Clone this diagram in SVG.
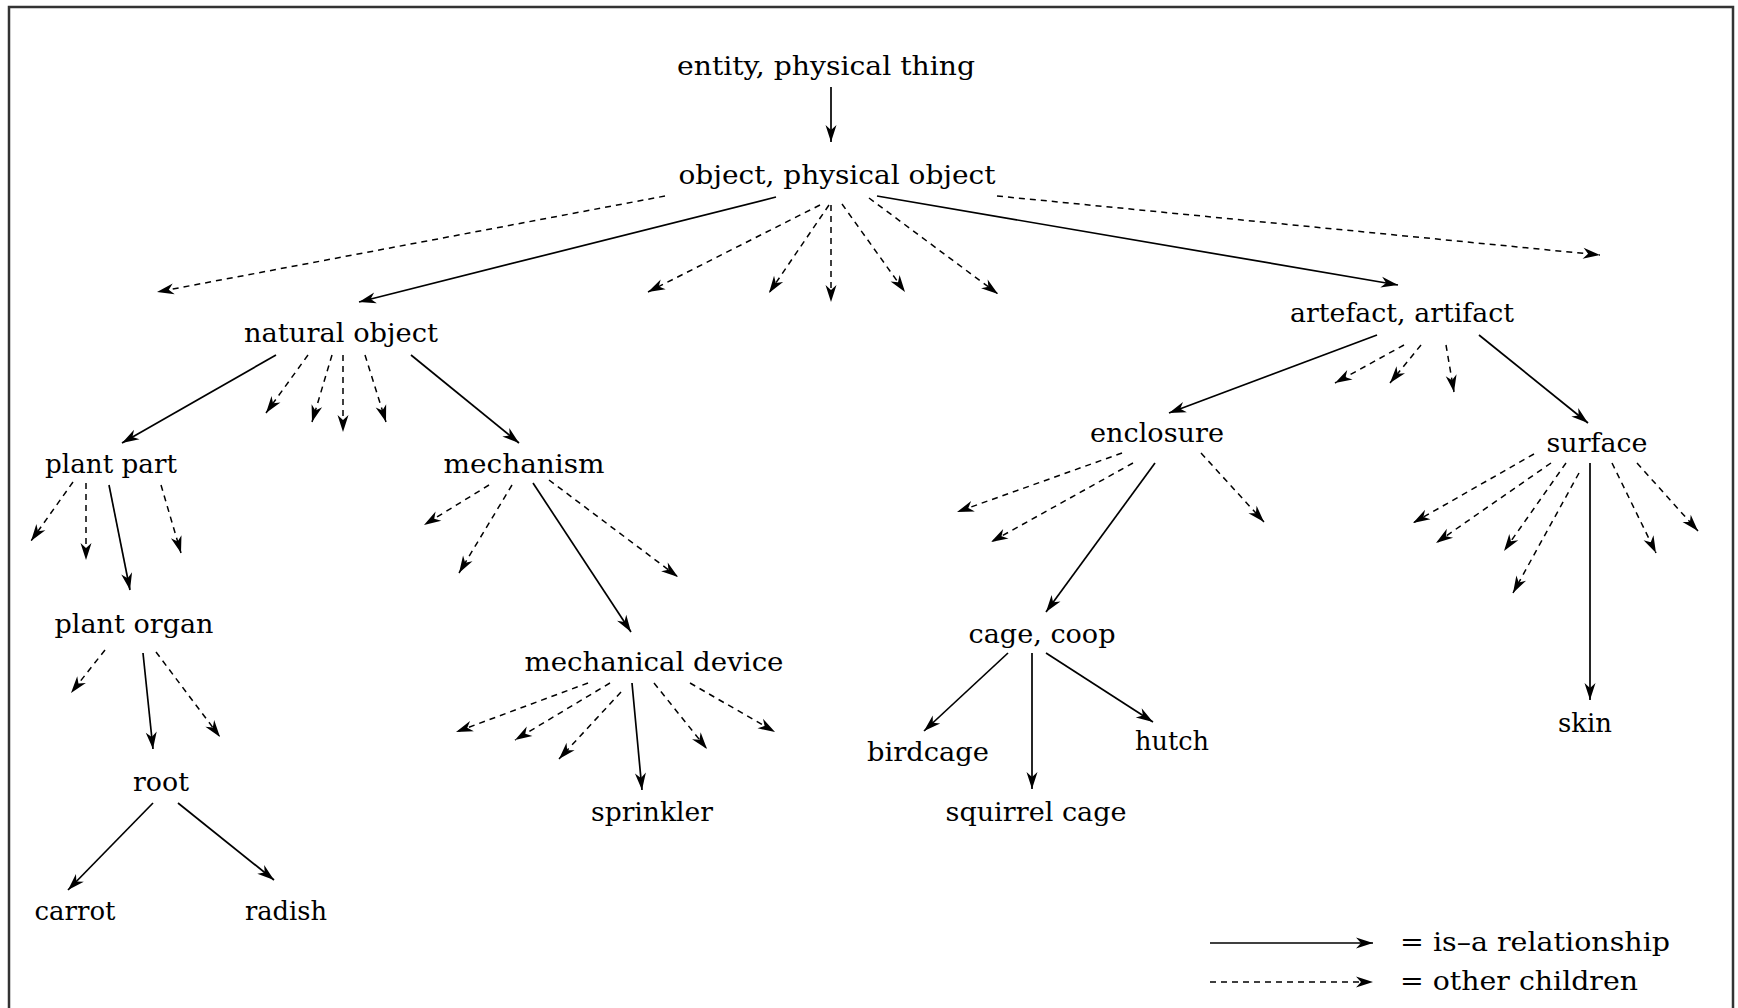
<svg xmlns="http://www.w3.org/2000/svg" width="1738" height="1008" viewBox="0 0 1738 1008">
  <style>
    .lbl { font-family: "DejaVu Serif", "Liberation Serif", serif; font-size: 26px; fill: #000; text-anchor: middle; }
    .leg { font-family: "DejaVu Serif", "Liberation Serif", serif; font-size: 26px; fill: #000; text-anchor: start; }
    .isa { fill: none; stroke: #000; stroke-width: 1.7; marker-end: url(#head); }
    .oth { fill: none; stroke: #000; stroke-width: 1.5; stroke-dasharray: 6 5; marker-end: url(#head); }
  </style>
  <defs>
    <marker id="head" markerUnits="userSpaceOnUse" viewBox="-18 -7 19 14" refX="0" refY="0" markerWidth="19" markerHeight="14" orient="auto">
      <path d="M0,0 L-17,-5.5 L-12,0 L-17,5.5 Z" fill="#000"/>
    </marker>
  </defs>

  <rect width="1738" height="1008" fill="#fff"/>
  <!-- frame (open at the bottom) -->
  <rect x="9" y="7" width="1724" height="1020" fill="none" stroke="#333" stroke-width="2.5"/>

  <!-- connectors -->
  <g id="connectors">
    <!-- is-a relations -->
    <line class="isa" x1="831" y1="87" x2="831" y2="142"/>
    <line class="isa" x1="776" y1="197" x2="359" y2="302"/>
    <line class="isa" x1="877" y1="196" x2="1398" y2="285"/>
    <line class="isa" x1="276" y1="355" x2="122" y2="443"/>
    <line class="isa" x1="411" y1="355" x2="519" y2="443"/>
    <line class="isa" x1="109" y1="485" x2="130" y2="590"/>
    <line class="isa" x1="533" y1="483" x2="631" y2="632"/>
    <line class="isa" x1="143" y1="653" x2="153" y2="749"/>
    <line class="isa" x1="153" y1="803" x2="68" y2="890"/>
    <line class="isa" x1="178" y1="803" x2="274" y2="880"/>
    <line class="isa" x1="632" y1="683" x2="642" y2="790"/>
    <line class="isa" x1="1377" y1="335" x2="1169" y2="413"/>
    <line class="isa" x1="1479" y1="335" x2="1588" y2="423"/>
    <line class="isa" x1="1155" y1="463" x2="1046" y2="612"/>
    <line class="isa" x1="1008" y1="653" x2="924" y2="731"/>
    <line class="isa" x1="1032" y1="653" x2="1032" y2="789"/>
    <line class="isa" x1="1046" y1="653" x2="1153" y2="722"/>
    <line class="isa" x1="1590" y1="463" x2="1590" y2="700"/>

    <!-- other children: object -->
    <line class="oth" x1="665" y1="196" x2="157" y2="292"/>
    <line class="oth" x1="820" y1="205" x2="648" y2="292"/>
    <line class="oth" x1="829" y1="205" x2="769" y2="293"/>
    <line class="oth" x1="831" y1="205" x2="831" y2="302"/>
    <line class="oth" x1="842" y1="204" x2="905" y2="292"/>
    <line class="oth" x1="869" y1="198" x2="998" y2="294"/>
    <line class="oth" x1="997" y1="196" x2="1600" y2="255"/>
    <!-- other children: natural object -->
    <line class="oth" x1="308" y1="355" x2="266" y2="413"/>
    <line class="oth" x1="332" y1="355" x2="312" y2="422"/>
    <line class="oth" x1="343" y1="355" x2="343" y2="432"/>
    <line class="oth" x1="365" y1="355" x2="386" y2="422"/>
    <!-- other children: plant part -->
    <line class="oth" x1="73" y1="482" x2="31" y2="541"/>
    <line class="oth" x1="86" y1="483" x2="86" y2="560"/>
    <line class="oth" x1="161" y1="485" x2="181" y2="553"/>
    <!-- other children: mechanism -->
    <line class="oth" x1="489" y1="485" x2="424" y2="525"/>
    <line class="oth" x1="512" y1="485" x2="459" y2="573"/>
    <line class="oth" x1="549" y1="480" x2="678" y2="577"/>
    <!-- other children: plant organ -->
    <line class="oth" x1="105" y1="650" x2="71" y2="693"/>
    <line class="oth" x1="156" y1="652" x2="220" y2="737"/>
    <!-- other children: mechanical device -->
    <line class="oth" x1="588" y1="683" x2="456" y2="732"/>
    <line class="oth" x1="610" y1="683" x2="515" y2="740"/>
    <line class="oth" x1="621" y1="692" x2="559" y2="759"/>
    <line class="oth" x1="654" y1="683" x2="707" y2="749"/>
    <line class="oth" x1="690" y1="683" x2="775" y2="732"/>
    <!-- other children: artefact -->
    <line class="oth" x1="1404" y1="345" x2="1335" y2="383"/>
    <line class="oth" x1="1421" y1="345" x2="1390" y2="383"/>
    <line class="oth" x1="1446" y1="345" x2="1454" y2="392"/>
    <!-- other children: enclosure -->
    <line class="oth" x1="1122" y1="453" x2="957" y2="512"/>
    <line class="oth" x1="1133" y1="463" x2="991" y2="542"/>
    <line class="oth" x1="1201" y1="453" x2="1264" y2="522"/>
    <!-- other children: surface -->
    <line class="oth" x1="1534" y1="454" x2="1413" y2="523"/>
    <line class="oth" x1="1551" y1="463" x2="1436" y2="543"/>
    <line class="oth" x1="1566" y1="463" x2="1504" y2="551"/>
    <line class="oth" x1="1579" y1="473" x2="1513" y2="593"/>
    <line class="oth" x1="1612" y1="463" x2="1656" y2="553"/>
    <line class="oth" x1="1637" y1="463" x2="1698" y2="531"/>

    <!-- legend samples -->
    <line class="isa" x1="1210" y1="943" x2="1373" y2="943"/>
    <line class="oth" x1="1210" y1="982" x2="1373" y2="982"/>
  </g>

  <!-- nodes -->
  <g id="n-entity"><text class="lbl" x="826" y="75" textLength="298" lengthAdjust="spacingAndGlyphs">entity, physical thing</text></g>
  <g id="n-object"><text class="lbl" x="837" y="184" textLength="317" lengthAdjust="spacingAndGlyphs">object, physical object</text></g>
  <g id="n-natural-object"><text class="lbl" x="341" y="342" textLength="194" lengthAdjust="spacingAndGlyphs">natural object</text></g>
  <g id="n-artefact"><text class="lbl" x="1402" y="322" textLength="224" lengthAdjust="spacingAndGlyphs">artefact, artifact</text></g>
  <g id="n-plant-part"><text class="lbl" x="111" y="473" textLength="132" lengthAdjust="spacingAndGlyphs">plant part</text></g>
  <g id="n-mechanism"><text class="lbl" x="524" y="473" textLength="161" lengthAdjust="spacingAndGlyphs">mechanism</text></g>
  <g id="n-enclosure"><text class="lbl" x="1157" y="442" textLength="134" lengthAdjust="spacingAndGlyphs">enclosure</text></g>
  <g id="n-surface"><text class="lbl" x="1597" y="452" textLength="101" lengthAdjust="spacingAndGlyphs">surface</text></g>
  <g id="n-plant-organ"><text class="lbl" x="134" y="633" textLength="159" lengthAdjust="spacingAndGlyphs">plant organ</text></g>
  <g id="n-mechanical-device"><text class="lbl" x="654" y="671" textLength="259" lengthAdjust="spacingAndGlyphs">mechanical device</text></g>
  <g id="n-cage"><text class="lbl" x="1042" y="643" textLength="147" lengthAdjust="spacingAndGlyphs">cage, coop</text></g>
  <g id="n-root"><text class="lbl" x="161" y="791" textLength="56" lengthAdjust="spacingAndGlyphs">root</text></g>
  <g id="n-sprinkler"><text class="lbl" x="652" y="821" textLength="122" lengthAdjust="spacingAndGlyphs">sprinkler</text></g>
  <g id="n-birdcage"><text class="lbl" x="928" y="761" textLength="122" lengthAdjust="spacingAndGlyphs">birdcage</text></g>
  <g id="n-hutch"><text class="lbl" x="1172" y="750" textLength="74" lengthAdjust="spacingAndGlyphs">hutch</text></g>
  <g id="n-squirrel-cage"><text class="lbl" x="1036" y="821" textLength="181" lengthAdjust="spacingAndGlyphs">squirrel cage</text></g>
  <g id="n-skin"><text class="lbl" x="1585" y="732" textLength="54" lengthAdjust="spacingAndGlyphs">skin</text></g>
  <g id="n-carrot"><text class="lbl" x="75" y="920" textLength="81" lengthAdjust="spacingAndGlyphs">carrot</text></g>
  <g id="n-radish"><text class="lbl" x="286" y="920" textLength="82" lengthAdjust="spacingAndGlyphs">radish</text></g>

  <!-- legend -->
  <g id="legend">
    <text class="leg" x="1400" y="951" textLength="270" lengthAdjust="spacingAndGlyphs">= is–a relationship</text>
    <text class="leg" x="1400" y="990" textLength="238" lengthAdjust="spacingAndGlyphs">= other children</text>
  </g>
</svg>
